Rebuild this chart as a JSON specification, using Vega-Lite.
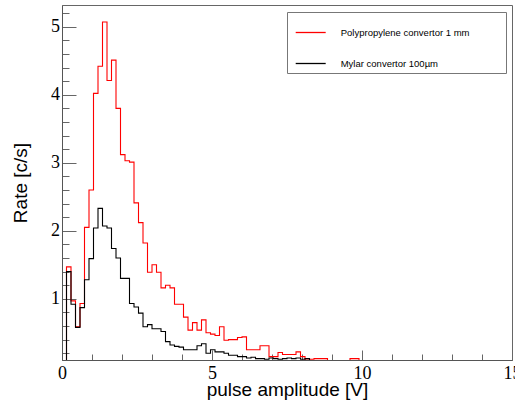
{
  "$schema": "https://vega.github.io/schema/vega-lite/v6.json",
  "width": 450,
  "height": 355,
  "autosize": {"type": "none"},
  "padding": {"left": 62, "top": 5, "right": 3, "bottom": 43},
  "background": "white",
  "config": {
    "view": {"stroke": "#666", "strokeWidth": 1},
    "axis": {"grid": false, "domainColor": "#555", "tickColor": "#666", "labelColor": "black", "titleColor": "black"}
  },
  "data": {
    "values": [
      {"x": 0.00, "poly": 0.00, "mylar": 0.00},
      {"x": 0.15, "poly": 1.47, "mylar": 1.40},
      {"x": 0.30, "poly": 0.97, "mylar": 0.92},
      {"x": 0.45, "poly": 0.59, "mylar": 0.58},
      {"x": 0.60, "poly": 0.93, "mylar": 0.87},
      {"x": 0.75, "poly": 2.05, "mylar": 1.28},
      {"x": 0.90, "poly": 2.60, "mylar": 1.59},
      {"x": 1.05, "poly": 4.02, "mylar": 2.04},
      {"x": 1.20, "poly": 4.42, "mylar": 2.33},
      {"x": 1.35, "poly": 5.07, "mylar": 2.07},
      {"x": 1.50, "poly": 4.21, "mylar": 2.04},
      {"x": 1.65, "poly": 4.51, "mylar": 1.74},
      {"x": 1.80, "poly": 3.80, "mylar": 1.60},
      {"x": 1.95, "poly": 3.12, "mylar": 1.30},
      {"x": 2.10, "poly": 3.03, "mylar": 1.30},
      {"x": 2.25, "poly": 3.01, "mylar": 0.93},
      {"x": 2.40, "poly": 2.41, "mylar": 0.88},
      {"x": 2.55, "poly": 2.12, "mylar": 0.79},
      {"x": 2.70, "poly": 1.82, "mylar": 0.59},
      {"x": 2.85, "poly": 1.39, "mylar": 0.62},
      {"x": 3.00, "poly": 1.50, "mylar": 0.56},
      {"x": 3.15, "poly": 1.39, "mylar": 0.56},
      {"x": 3.30, "poly": 1.16, "mylar": 0.52},
      {"x": 3.45, "poly": 1.20, "mylar": 0.37},
      {"x": 3.60, "poly": 1.16, "mylar": 0.32},
      {"x": 3.75, "poly": 0.92, "mylar": 0.30},
      {"x": 3.90, "poly": 0.92, "mylar": 0.29},
      {"x": 4.05, "poly": 0.73, "mylar": 0.25},
      {"x": 4.20, "poly": 0.54, "mylar": 0.25},
      {"x": 4.35, "poly": 0.65, "mylar": 0.25},
      {"x": 4.50, "poly": 0.54, "mylar": 0.31},
      {"x": 4.65, "poly": 0.69, "mylar": 0.34},
      {"x": 4.80, "poly": 0.50, "mylar": 0.20},
      {"x": 4.95, "poly": 0.48, "mylar": 0.25},
      {"x": 5.10, "poly": 0.46, "mylar": 0.22},
      {"x": 5.25, "poly": 0.59, "mylar": 0.22},
      {"x": 5.40, "poly": 0.39, "mylar": 0.20},
      {"x": 5.55, "poly": 0.40, "mylar": 0.17},
      {"x": 5.70, "poly": 0.40, "mylar": 0.17},
      {"x": 5.85, "poly": 0.43, "mylar": 0.15},
      {"x": 6.00, "poly": 0.44, "mylar": 0.15},
      {"x": 6.15, "poly": 0.25, "mylar": 0.13},
      {"x": 6.30, "poly": 0.25, "mylar": 0.14},
      {"x": 6.45, "poly": 0.25, "mylar": 0.12},
      {"x": 6.60, "poly": 0.31, "mylar": 0.12},
      {"x": 6.75, "poly": 0.31, "mylar": 0.11},
      {"x": 6.90, "poly": 0.15, "mylar": 0.13},
      {"x": 7.05, "poly": 0.15, "mylar": 0.12},
      {"x": 7.20, "poly": 0.21, "mylar": 0.11},
      {"x": 7.35, "poly": 0.18, "mylar": 0.12},
      {"x": 7.50, "poly": 0.18, "mylar": 0.13},
      {"x": 7.65, "poly": 0.18, "mylar": 0.12},
      {"x": 7.80, "poly": 0.22, "mylar": 0.13},
      {"x": 7.95, "poly": 0.15, "mylar": 0.11},
      {"x": 8.10, "poly": 0.10, "mylar": 0.12},
      {"x": 8.25, "poly": 0.11, "mylar": 0.05},
      {"x": 8.40, "poly": 0.12, "mylar": 0.05},
      {"x": 8.55, "poly": 0.12, "mylar": 0.05},
      {"x": 8.70, "poly": 0.12, "mylar": 0.05},
      {"x": 8.85, "poly": 0.05, "mylar": 0.05},
      {"x": 9.00, "poly": 0.05, "mylar": 0.05},
      {"x": 9.15, "poly": 0.05, "mylar": 0.05},
      {"x": 9.30, "poly": 0.05, "mylar": 0.05},
      {"x": 9.45, "poly": 0.05, "mylar": 0.05},
      {"x": 9.60, "poly": 0.12, "mylar": 0.05},
      {"x": 9.75, "poly": 0.12, "mylar": 0.05},
      {"x": 9.90, "poly": 0.00, "mylar": 0.00},
      {"x": 15.0, "poly": 0.00, "mylar": 0.00}
    ]
  },
  "transform": [{"fold": ["poly", "mylar"], "as": ["series", "rate"]}],
  "mark": {"type": "line", "interpolate": "step-after", "strokeWidth": 1.1, "clip": true},
  "encoding": {
    "x": {
      "field": "x", "type": "quantitative",
      "scale": {"domain": [0, 15], "nice": false, "zero": false},
      "axis": {
        "values": [0,1,2,3,4,5,6,7,8,9,10,11,12,13,14,15],
        "labelExpr": "datum.value % 5 === 0 ? datum.label : ''",
        "tickSize": {"condition": {"test": "datum.value % 5 === 0", "value": -10}, "value": -6},
        "labelPadding": 14,
        "labelFont": "Liberation Serif", "labelFontSize": 18,
        "labelFlush": false, "labelOverlap": false,
        "title": "pulse amplitude [V]",
        "titleFont": "Liberation Sans", "titleFontSize": 19, "titleFontWeight": "normal",
        "titlePadding": -6
      }
    },
    "y": {
      "field": "rate", "type": "quantitative",
      "scale": {"domain": [0.1, 5.32], "nice": false, "zero": false},
      "axis": {
        "values": [0.2,0.4,0.6,0.8,1,1.2,1.4,1.6,1.8,2,2.2,2.4,2.6,2.8,3,3.2,3.4,3.6,3.8,4,4.2,4.4,4.6,4.8,5,5.2],
        "labelExpr": "abs(datum.value - round(datum.value)) < 0.001 ? toString(round(datum.value)) : ''",
        "tickSize": {"condition": {"test": "abs(datum.value - round(datum.value)) < 0.001", "value": -14}, "value": -7},
        "labelPadding": 16.5,
        "labelFont": "Liberation Serif", "labelFontSize": 18,
        "labelFlush": false, "labelOverlap": false,
        "title": "Rate [c/s]",
        "titleFont": "Liberation Sans", "titleFontSize": 19, "titleFontWeight": "normal",
        "titlePadding": 20
      }
    },
    "color": {
      "field": "series", "type": "nominal",
      "scale": {"domain": ["poly", "mylar"], "range": ["#ff0000", "#000000"]},
      "legend": {
        "orient": "none", "legendX": 225, "legendY": 7,
        "title": null,
        "labelExpr": "datum.label === 'poly' ? 'Polypropylene convertor 1 mm\u00a0\u00a0\u00a0\u00a0\u00a0\u00a0\u00a0\u00a0\u00a0\u00a0\u00a0\u00a0\u200b' : 'Mylar convertor 100µm'",
        "strokeColor": "#777", "fillColor": "white", "padding": 4.5,
        "symbolType": "stroke", "symbolSize": 900, "symbolStrokeWidth": 1.3, "symbolOffset": 3.2,
        "labelFont": "Liberation Sans", "labelFontSize": 9.5, "labelColor": "black", "labelOffset": 14,
        "labelLimit": 300,
        "rowPadding": 10
      }
    }
  }
}
